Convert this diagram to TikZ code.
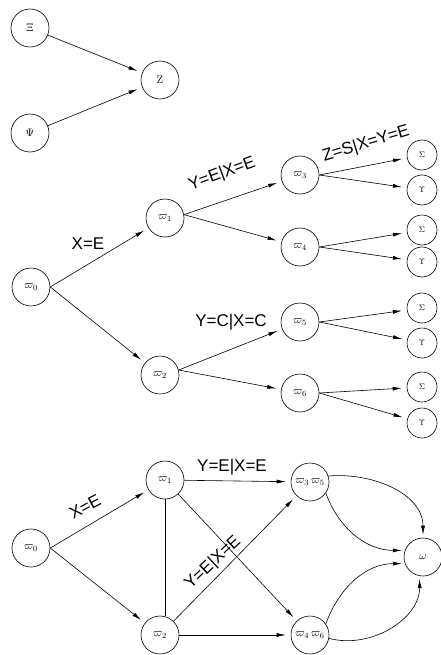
\documentclass[tikz,border=0pt]{standalone}
\usepackage{fontspec}
\newfontfamily\labfont{Liberation Sans}
\usetikzlibrary{arrows.meta}
\newcommand\vp[1]{$\varpi_{#1}$}
\begin{document}
\begin{tikzpicture}[x=1pt,y=-1pt,line width=0.6pt,
 big/.style={circle,draw,minimum size=38pt,inner sep=0pt,font=\fontsize{11}{13}\selectfont},
 small/.style={circle,draw,minimum size=30pt,inner sep=0pt,font=\fontsize{8}{10}\selectfont},
 arr/.style={-{Latex[length=9pt,width=4pt]},shorten >=5pt},
 lab/.style={font=\labfont\fontsize{17}{20}\selectfont,inner sep=0pt}]
\useasboundingbox (0,0) rectangle (441,655);
% top graph
\node[big] (xi) at (30,28) {$\Xi$};
\node[big] (z) at (160,80) {$\mathrm{Z}$};
\node[big] (psi) at (30,133) {$\Psi$};
\draw[arr] (xi) -- (z);
\draw[arr] (psi) -- (z);
% tree
\node[big] (t0) at (31,287) {\vp{0}};
\node[big] (t1) at (165,218) {\vp{1}};
\node[big] (t2) at (160,375) {\vp{2}};
\node[big] (t3) at (300,175) {\vp{3}};
\node[big] (t4) at (300,247) {\vp{4}};
\node[big] (t5) at (300,322) {\vp{5}};
\node[big] (t6) at (300,393) {\vp{6}};
\node[small] (s3) at (422,155) {$\Sigma$};
\node[small] (u3) at (422,190) {$\Upsilon$};
\node[small] (s4) at (422,230) {$\Sigma$};
\node[small] (u4) at (422,262) {$\Upsilon$};
\node[small] (s5) at (422,308) {$\Sigma$};
\node[small] (u5) at (422,343) {$\Upsilon$};
\node[small] (s6) at (422,387) {$\Sigma$};
\node[small] (u6) at (422,423) {$\Upsilon$};
\draw[arr] (t0.east) -- (t1);
\draw[arr] (t0.east) -- (t2);
\draw[arr] (t1.10) -- (t3);
\draw[arr] (t1.10) -- (t4);
\draw[arr] (t2.15) -- (t5);
\draw[arr] (t2.15) -- (t6);
\foreach \a/\b in {t3/s3,t3/u3,t4/s4,t4/u4,t5/s5,t5/u5,t6/s6,t6/u6}
  \draw[arr] (\a.east) -- (\b);
\node[lab] (l1) at (88,244) {X=E};
\node[lab,rotate=20] (l2) at (222,174) {Y=E|X=E};
\node[lab,rotate=17] (l3) at (366,144) {Z=S|X=Y=E};
\node[lab] (l4) at (231,322) {Y=C|X=C};
% bottom graph
\node[big] (b0) at (31,548) {\vp{0}};
\node[big] (b1) at (165,480) {\vp{1}};
\node[big] (b2) at (160,635) {\vp{2}};
\node[big] (b35) at (310,482) {\vp{3}\,\vp{5}};
\node[big] (b46) at (310,635) {\vp{4}\,\vp{6}};
\node[big] (om) at (423,557) {$\omega$};
\draw[arr] (b0.east) -- (b1);
\draw[arr] (b0.east) -- (b2);
\draw (b1.south) -- (b2.north -| b1.south);
\draw[arr] (b1) -- (b35);
\draw[arr] (b1) -- (b46);
\draw[arr] (b2) -- (b35);
\draw[arr] (b2) -- (b46);
\draw[arr,shorten >=3pt] (b35.18) to[out=5,in=90] (om.north);
\draw[arr,shorten >=3pt] (b35.-35) to[out=-70,in=180] (om.160);
\draw[arr,shorten >=3pt] (b46.35) to[out=70,in=180] (om.200);
\draw[arr,shorten >=3pt] (b46.-10) to[out=-15,in=-90] (om.-100);
\node[lab,rotate=28] (l5) at (85,507) {X=E};
\node[lab] (l6) at (232,467) {Y=E|X=E};
\node[lab,rotate=43] (l7) at (213,563) {Y=E|X=E};
\end{tikzpicture}
\end{document}
